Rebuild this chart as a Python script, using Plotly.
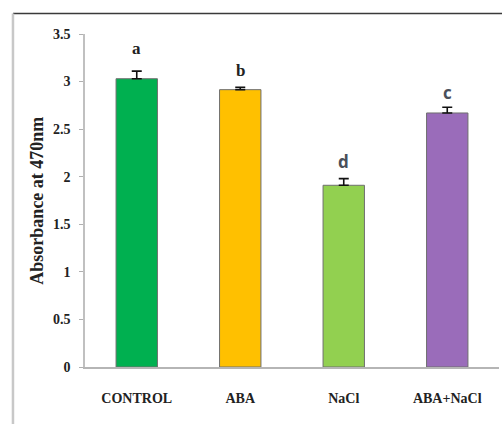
import plotly.graph_objects as go

# Treatments, mean absorbance and standard error
treatments = ["CONTROL", "ABA", "NaCl", "ABA+NaCl"]
absorbance = [3.03, 2.915, 1.91, 2.67]
std_error = [0.08, 0.025, 0.07, 0.06]
group_letters = ["a", "b", "d", "c"]
bar_colors = ["#00B050", "#FFC000", "#92D050", "#9A6CBA"]

# y-axis ticks
y_ticks = [0, 0.5, 1, 1.5, 2, 2.5, 3, 3.5]
y_tick_text = ["0", "0.5", "1", "1.5", "2", "2.5", "3", "3.5"]

serif = "Liberation Serif, Times New Roman, serif"

fig = go.Figure()
fig.add_trace(go.Bar(
    x=treatments,
    y=absorbance,
    width=0.4,
    marker=dict(color=bar_colors, line=dict(color="#6f6f6f", width=1)),
    error_y=dict(type="data", array=std_error, arrayminus=[0] * len(std_error),
                 symmetric=False, color="#111111", thickness=1.6, width=5),
    showlegend=False,
))

# significance letters above the error bars
letter_fonts = [serif, serif, "Open Sans, Arial, sans-serif", "Open Sans, Arial, sans-serif"]
letter_colors = ["#222222", "#222222", "#4a4f5a", "#4a4f5a"]
letter_shift = [23, 17, 17, 15]
for t, v, e, lab, fnt, col, sh in zip(treatments, absorbance, std_error, group_letters,
                                        letter_fonts, letter_colors, letter_shift):
    fig.add_annotation(x=t, y=v + e, text=lab, showarrow=False,
                       yanchor="middle", yshift=sh,
                       font=dict(family=fnt, size=17, color=col, weight="bold"))

# y-axis title
fig.add_annotation(xref="paper", yref="paper", x=-0.118, y=0.5,
                   text="Absorbance at 470nm", textangle=-90, showarrow=False,
                   xanchor="center", yanchor="middle",
                   font=dict(family=serif, size=18, color="#222222", weight="bold"))

# outer frame: dark top rule and light left border
fig.add_shape(type="line", xref="paper", yref="paper",
              x0=-0.174, x1=1.02, y0=1.0616, y1=1.0616,
              line=dict(color="#3a3a3a", width=1.6))
fig.add_shape(type="line", xref="paper", yref="paper",
              x0=-0.174, x1=-0.174, y0=1.0616, y1=-0.18,
              line=dict(color="#c8c8c8", width=2.5))

fig.update_layout(
    width=502, height=424,
    margin=dict(l=85, r=3, t=34, b=57),
    paper_bgcolor="white", plot_bgcolor="white",
    bargap=0.6,
    xaxis=dict(
        range=[-0.5, 3.5],
        showline=True, linecolor="#b5b5b5", linewidth=1.5,
        ticks="", showgrid=False, zeroline=False,
        tickfont=dict(family=serif, size=14, color="#222222", weight="bold"),
        ticklabelstandoff=17,
    ),
    yaxis=dict(
        range=[0, 3.5],
        tickvals=y_ticks, ticktext=y_tick_text,
        showline=True, linecolor="#c0c0c0", linewidth=1.5,
        ticks="outside", ticklen=4, tickcolor="#b0b0b0",
        showgrid=False, zeroline=False,
        tickfont=dict(family=serif, size=14, color="#222222", weight="bold"),
        ticklabelstandoff=6,
    ),
)

fig.write_html("out.html")
